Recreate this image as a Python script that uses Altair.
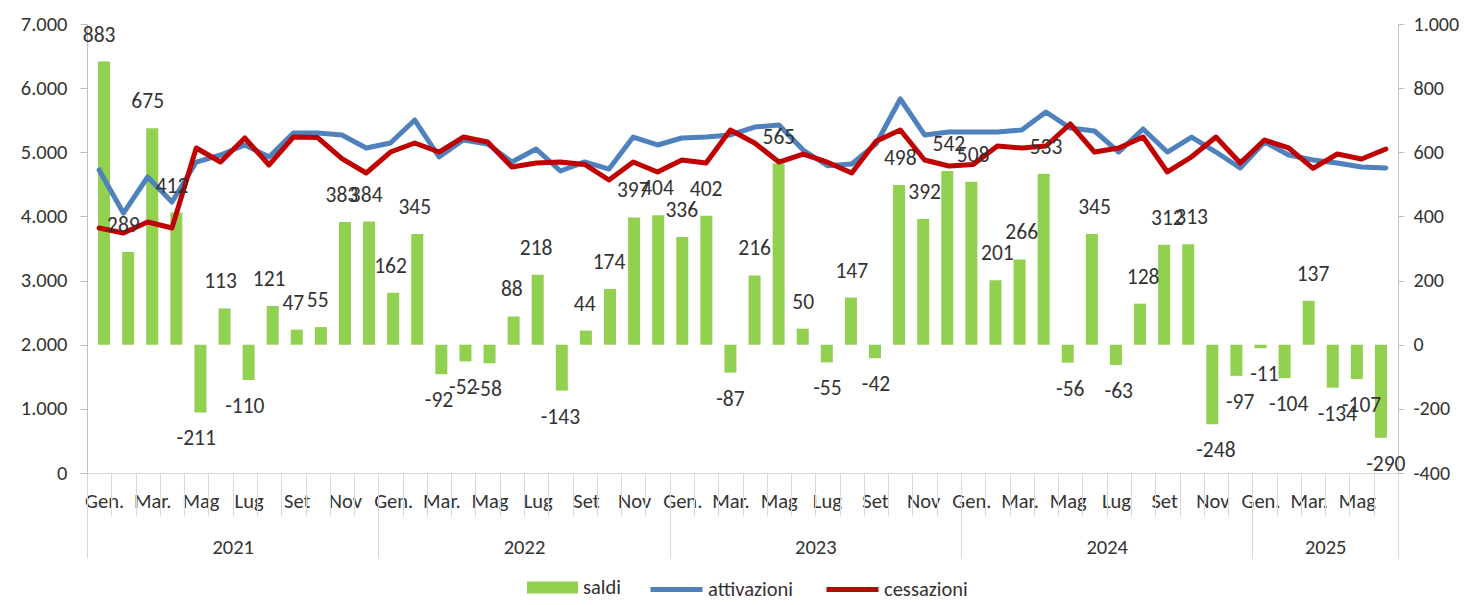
import altair as alt
import pandas as pd

mesi = ['Gen.', 'Feb.', 'Mar.', 'Apr.', 'Mag', 'Giu', 'Lug', 'Ago', 'Set', 'Ott', 'Nov', 'Dic']
anni = ['2021', '2022', '2023', '2024', '2025']

saldi = [883, 289, 675, 412, -211, 113, -110, 121, 47, 55, 383, 384,
         162, 345, -92, -52, -58, 88, 218, -143, 44, 174, 397, 404,
         336, 402, -87, 216, 565, 50, -55, 147, -42, 498, 392, 542,
         508, 201, 266, 533, -56, 345, -63, 128, 312, 313, -248, -97,
         -11, -104, 137, -134, -107, -290]

attivazioni = [4724, 4053, 4615, 4225, 4848, 4958, 5114, 4927, 5300, 5300, 5270, 5067,
               5145, 5503, 4927, 5191, 5129, 4848, 5051, 4708, 4850, 4739, 5238, 5114,
               5223, 5238, 5270, 5394, 5425, 5036, 4790, 4817, 5130, 5831, 5270, 5316,
               5316, 5316, 5347, 5628, 5378, 5332, 5004, 5363, 5004, 5238, 5004, 4755,
               5160, 4958, 4880, 4833, 4770, 4755]

cessazioni = [3820, 3742, 3913, 3820, 5067, 4848, 5223, 4802, 5238, 5230, 4900, 4677,
              5004, 5145, 5004, 5238, 5160, 4770, 4833, 4848, 4810, 4568, 4848, 4693,
              4880, 4833, 5347, 5145, 4848, 4973, 4845, 4677, 5172, 5347, 4880, 4786,
              4810, 5098, 5067, 5098, 5441, 5004, 5067, 5238, 4693, 4930, 5238, 4833,
              5191, 5067, 4750, 4973, 4895, 5051]

n = len(saldi)
df = pd.DataFrame({
    'idx': list(range(n)),
    'saldi': saldi,
    'lab': [str(v) for v in saldi],
    'attivazioni': attivazioni,
    'cessazioni': cessazioni,
    'serie': ['saldi'] * n,
})

FONT = 'Carlito, Calibri, Open Sans, sans-serif'
FS = 20.5
FSL = 21.5
TXT = '#333333'
GRID = '#D9D9D9'
AXC = '#BFBFBF'

x_scale = alt.Scale(domain=[-0.5, n - 0.5], nice=False, zero=False)

month_expr = '[' + ','.join("'%s'" % m for m in mesi) + '][datum.value % 12]'
year_expr = '[' + ','.join("'%s'" % a for a in anni) + '][floor(datum.value / 12)]'
left_expr = "replace(format(datum.value, ','), ',', '.')"
right_expr = "datum.value < 0 ? '-' + format(-datum.value, ',') : replace(format(datum.value, ','), ',', '.')"

base = alt.Chart(df)

bars = base.mark_bar(size=12).encode(
    x=alt.X('idx:Q', scale=x_scale,
            axis=alt.Axis(orient='bottom', values=list(range(0, n, 2)), labelExpr=month_expr,
                          ticks=False, tickSize=0, domain=True, domainColor=GRID, grid=False,
                          labelPadding=18, labelFontSize=FS, labelFont=FONT, labelColor=TXT,
                          labelOverlap=False, labelFlush=False, labelBound=False, title=None)),
    y=alt.Y('saldi:Q', scale=alt.Scale(domain=[-400, 1000], nice=False, zero=True),
            axis=alt.Axis(orient='right', values=list(range(-400, 1001, 200)), labelExpr=right_expr,
                          tickSize=6, tickColor=AXC, domainColor=AXC, grid=False, labelPadding=9,
                          labelFontSize=20, labelFont=FONT, labelColor=TXT, title=None,
                          labelOverlap=False, labelFlush=False)),
    fill=alt.Fill('serie:N', scale=alt.Scale(domain=['saldi'], range=['#92D050']),
                  legend=alt.Legend(orient='none', legendX=440, legendY=538, direction='horizontal',
                                    title=None, symbolSize=2601, symbolType='M-1,-0.24H1V0.24H-1Z',
                                    symbolStrokeWidth=0,
                                    labelFontSize=FS, labelFont=FONT, labelColor=TXT, labelOffset=5)),
)

lines = base.transform_fold(['attivazioni', 'cessazioni'], as_=['serie', 'valore']).mark_line(
    strokeWidth=5, strokeCap='round', strokeJoin='round').encode(
    x=alt.X('idx:Q', scale=x_scale,
            axis=alt.Axis(orient='bottom', values=[i + 0.5 for i in range(n - 1)], labels=False,
                          domain=False, ticks=True, tickSize=43, tickColor=GRID, grid=False, title=None)),
    y=alt.Y('valore:Q', scale=alt.Scale(domain=[0, 7000], nice=False),
            axis=alt.Axis(orient='left', values=list(range(0, 7001, 1000)), labelExpr=left_expr,
                          tickSize=7, tickColor=AXC, domainColor=AXC, grid=False, labelPadding=13,
                          labelFontSize=FS, labelFont=FONT, labelColor=TXT, title=None,
                          labelOverlap=False, labelFlush=False)),
    stroke=alt.Stroke('serie:N', scale=alt.Scale(domain=['attivazioni', 'cessazioni'],
                                                 range=['#4F81BD', '#C00000']),
                      legend=alt.Legend(orient='none', legendX=561, legendY=537, direction='horizontal',
                                        title=None, symbolType='stroke', symbolSize=2704,
                                        symbolStrokeWidth=5,
                                        labelFontSize=FS, labelFont=FONT, labelColor=TXT,
                                        labelOffset=3, columnPadding=22)),
)

year_bounds = [-0.5] + [12 * k - 0.5 for k in range(1, len(anni))] + [n - 0.5]
year_centers = [(year_bounds[k] + year_bounds[k + 1]) / 2 for k in range(len(anni))]

text_pos = base.transform_filter('datum.saldi >= 0').mark_text(
    dy=-26, fontSize=FSL, font=FONT, color=TXT).encode(
    x=alt.X('idx:Q', scale=x_scale,
            axis=alt.Axis(orient='bottom', values=year_bounds, labels=False, domain=False,
                          ticks=True, tickSize=85, tickColor=GRID, grid=False, title=None)),
    y=alt.Y('saldi:Q', scale=alt.Scale(domain=[-400, 1000], nice=False), axis=None),
    text='lab:N',
)

text_neg = base.transform_filter('datum.saldi < 0').mark_text(
    dy=27, fontSize=FSL, font=FONT, color=TXT).encode(
    x=alt.X('idx:Q', scale=x_scale,
            axis=alt.Axis(orient='bottom', values=year_centers, labelExpr=year_expr,
                          ticks=False, tickSize=0, domain=False, grid=False, labelPadding=64,
                          labelFontSize=FS, labelFont=FONT, labelColor=TXT, title=None,
                          labelOverlap=False, labelFlush=False, labelBound=False)),
    y=alt.Y('saldi:Q', scale=alt.Scale(domain=[-400, 1000], nice=False), axis=None),
    text='lab:N',
)

chart = alt.layer(bars, lines, text_pos, text_neg).resolve_scale(
    x='independent', y='independent'
).properties(
    width=1311, height=449,
    autosize=alt.AutoSizeParams(type='none'),
    padding={'left': 79, 'top': 16, 'right': 62, 'bottom': 124},
).configure_view(stroke=None)

chart.save('out.html', embed_options={'renderer': 'svg', 'actions': False})
